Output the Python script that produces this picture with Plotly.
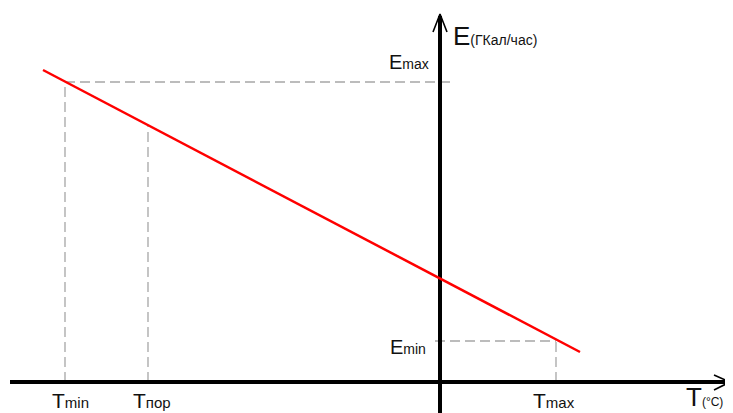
import plotly.graph_objects as go

# Data (schematic units: T horizontal, E vertical; origin at axis crossing)
line_T = [-397, 140]          # red line end points (T)
line_E = [312, 30]            # red line end points (E)

mark_T = [-375, -292, 116]    # Tmin, Tпор, Tmax
mark_E = [300, 257, 41]       # E values of the line at those T
mark_labels = ["min", "пор", "max"]

E_max = 300
E_min = 41

x_axis_T = [-430, 288]
y_axis_E = [-39, 366]

fig = go.Figure()

grey = "#a6a6a6"
dash = "10px,5px"

def seg(xs, ys, color, width, dashstyle="solid"):
    fig.add_trace(go.Scatter(x=xs, y=ys, mode="lines",
                             line=dict(color=color, width=width, dash=dashstyle),
                             hoverinfo="skip", showlegend=False))

# dashed guides
for t, e in zip(mark_T, mark_E):
    seg([t, t], [0, e], grey, 1.3, dash)
seg([mark_T[0], 12], [E_max, E_max], grey, 1.3, dash)
seg([-5, mark_T[2]], [E_min, E_min], grey, 1.3, dash)

# axes
seg(x_axis_T, [0, 0], "black", 4)
seg([0, 0], y_axis_E, "black", 4)
# arrow heads
seg([274, 290, 274], [7, 0, -8], "black", 1.6)
seg([-7, 0, 7], [350, 368, 350], "black", 1.6)

# red line
seg(line_T, line_E, "#ff0000", 2.5)

font = dict(family="Liberation Sans, Arial, sans-serif", color="#111111")

def lab(x, y, big, small, bs, ss, xanchor="left", yanchor="bottom"):
    fig.add_annotation(x=x, y=y, xref="x", yref="y", showarrow=False,
                       xanchor=xanchor, yanchor=yanchor,
                       text=f"<span style='font-size:{bs}px'>{big}</span><span style='font-size:{ss}px'>{small}</span>",
                       font=dict(size=bs, **font))

for t, l, px in zip(mark_T, mark_labels, [50, 131, 531]):
    lab(px - 440, -32, "T", l, 21, 15)

lab(244, -32, "T", "(°C)", 26, 12)
lab(11, 329, "E", "(ГКал/час)", 26, 14)
lab(-9, 307, "E", "max", 20, 14, xanchor="right")
lab(-12, 22, "E", "min", 20, 14, xanchor="right")

# the page body has an 8px margin, so the visible window starts 8px into the reference
fig.update_layout(
    width=733, height=413,
    margin=dict(l=0, r=0, t=0, b=0),
    paper_bgcolor="white", plot_bgcolor="white",
    xaxis=dict(range=[-432, 301], visible=False, fixedrange=True),
    yaxis=dict(range=[-39, 374], visible=False, fixedrange=True),
    showlegend=False,
)

fig.write_html("out.html")
